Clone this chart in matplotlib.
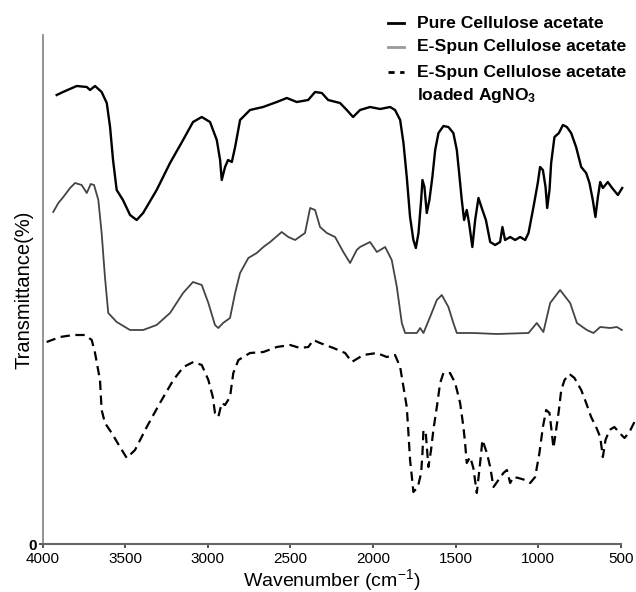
import matplotlib
matplotlib.use("Agg")
import matplotlib.pyplot as plt
from matplotlib.lines import Line2D

plt.rcParams['font.family'] = ['Liberation Sans', 'DejaVu Sans']
plt.rcParams['mathtext.fontset'] = 'custom'
plt.rcParams['mathtext.rm'] = 'Liberation Sans'
plt.rcParams['mathtext.bf'] = 'Liberation Sans:bold'
plt.rcParams['mathtext.it'] = 'Liberation Sans:italic'

# ---------------- data (wavenumber cm-1, transmittance a.u.) ----------------
wn_pure = [3914, 3876, 3793, 3732, 3712, 3682, 3642, 3611, 3591, 3573, 3551, 3513, 3470, 3430,
           3391, 3309, 3228, 3149, 3089, 3036, 2986, 2945, 2925, 2915, 2895, 2877, 2854, 2834,
           2804, 2744, 2665, 2582, 2521, 2461, 2392, 2350, 2309, 2271, 2199, 2158, 2120, 2078,
           2017, 1956, 1896,
           1866, 1835, 1815, 1795, 1775, 1755, 1740, 1724, 1708, 1700, 1688, 1674, 1658, 1640,
           1623, 1603, 1573, 1543, 1513, 1492, 1478, 1462, 1448, 1432, 1418, 1398, 1381, 1361,
           1337, 1316, 1290, 1260, 1230, 1216, 1200, 1169, 1139, 1109, 1078, 1058, 1028,
           1002, 988, 971, 955, 945, 931, 921, 901, 874, 850, 826, 800, 770, 739, 709, 689,
           669, 653, 638, 624, 608, 578, 552, 517, 491]
t_pure = [449, 452, 458, 457, 454, 458, 452, 441, 417, 384, 354, 344, 329, 324,
          331, 354, 381, 404, 422, 427, 422, 404, 384, 364, 377, 384, 382, 397,
          424, 434, 437, 442, 446, 442, 444, 452, 451, 444, 441, 434, 427, 434,
          437, 435, 437,
          434, 424, 401, 367, 327, 304, 296, 311, 344, 364, 357, 331, 344, 367,
          394, 411, 418, 417, 411, 394, 371, 344, 324, 334, 321, 297, 324, 346,
          334, 324, 302, 299, 302, 317, 304, 307, 304, 307, 304, 311, 337,
          361, 377, 374, 357, 336, 354, 381, 407, 411, 419, 417, 411, 397, 377, 371, 361,
          344, 327, 347, 362, 356, 362, 356, 349, 356]

wn_spun = [3935, 3904, 3874, 3833, 3803, 3763, 3732, 3708, 3688, 3662, 3642, 3622, 3602, 3551,
           3470, 3391, 3309, 3228, 3149, 3089, 3036, 2996, 2956, 2936, 2907, 2865, 2834, 2804,
           2754, 2703, 2663, 2622, 2552, 2512, 2471, 2411, 2380, 2350, 2320, 2279, 2229, 2179,
           2138, 2098, 2078, 2017, 1976, 1926, 1886, 1855, 1825, 1805, 1734, 1714, 1694, 1654,
           1613, 1583, 1543, 1513, 1492, 1392, 1250, 1058, 1008, 968, 927, 867, 806, 765, 705,
           665, 624, 564, 523, 493]
t_spun = [332, 341, 347, 356, 361, 359, 351, 360, 359, 344, 311, 267, 231, 222,
          214, 214, 219, 231, 251, 262, 259, 241, 219, 216, 221, 226, 251, 271,
          286, 291, 297, 302, 312, 307, 304, 311, 336, 334, 317, 311, 307, 292,
          281, 294, 297, 302, 292, 297, 284, 257, 221, 211, 211, 216, 211, 227,
          244, 249, 237, 221, 211, 211, 210, 211, 221, 212, 241, 254, 241, 221, 214,
          211, 217, 216, 217, 214]

wn_ag = [3975, 3894, 3814, 3743, 3702, 3682, 3652, 3642, 3622, 3581, 3531, 3490, 3440, 3369,
         3289, 3208, 3147, 3087, 3036, 2996, 2969, 2956, 2936, 2915, 2895, 2865, 2845, 2814,
         2744, 2663, 2582, 2501, 2441, 2391, 2360, 2320, 2239, 2168, 2128, 2078, 2058, 1976,
         1916,
         1866, 1835, 1815, 1795, 1785, 1775, 1764, 1755, 1728, 1708, 1700, 1694, 1680, 1664,
         1648, 1634, 1613, 1593, 1573, 1533, 1502, 1472, 1452, 1442, 1432, 1411, 1392, 1371,
         1351, 1337, 1310, 1290, 1270, 1240, 1210, 1189, 1169, 1150, 1119, 1078, 1048, 1018,
         992, 971, 951, 931, 921, 907, 891, 874, 860, 840, 810, 780, 739, 709, 679, 649,
         624, 608, 592, 568, 538, 507, 477, 447, 417]
t_ag = [202, 207, 209, 209, 204, 191, 164, 134, 121, 111, 97, 86, 94, 117,
        141, 164, 177, 182, 179, 164, 147, 131, 127, 141, 139, 147, 171, 184,
        191, 192, 197, 199, 196, 197, 204, 201, 196, 191, 182, 187, 189, 191,
        187,
        189, 177, 157, 137, 111, 84, 67, 52, 57, 71, 91, 114, 111, 77,
        94, 114, 137, 161, 171, 171, 161, 141, 117, 101, 81, 87, 76, 51,
        81, 104, 91, 77, 57, 64, 71, 74, 61, 67, 66, 64, 61, 67,
        91, 117, 134, 131, 117, 96, 114, 134, 154, 164, 170, 166, 154, 141, 127, 117,
        107, 87, 104, 114, 117, 111, 106, 112, 122]

labels = ["Pure Cellulose acetate", "E-Spun Cellulose acetate",
          "E-Spun Cellulose acetate", r"loaded AgNO$_{\mathbf{3}}$"]
xticks = [4000, 3500, 3000, 2500, 2000, 1500, 1000, 500]

# ---------------- figure ----------------
W, H = 636, 592
fig = plt.figure(figsize=(W / 100, H / 100), dpi=100)
ax = fig.add_axes([42.5 / W, 1 - 544 / H, (620.7 - 42.5) / W, (544 - 35) / H])

ax.plot(wn_pure, t_pure, color='black', lw=1.7, clip_on=False, solid_joinstyle='round')
ax.plot(wn_spun, t_spun, color='#444444', lw=1.3, clip_on=False, solid_joinstyle='round')
ax.plot(wn_ag, t_ag, color='black', lw=1.6, linestyle=(0, (4.2, 2.5)), clip_on=False)

ax.set_xlim(4000, 500)
ax.set_ylim(0, 509)

for s in ['top', 'right']:
    ax.spines[s].set_visible(False)
ax.spines['left'].set_color('#8a8a8a')
ax.spines['bottom'].set_color('#666666')
ax.spines['left'].set_linewidth(1.3)
ax.spines['bottom'].set_linewidth(1.5)

ax.set_xticks(xticks)
ax.set_xticklabels([str(v) for v in xticks], fontsize=11)
ax.tick_params(axis='x', direction='out', length=3, width=1.2, color='#333333', pad=3)
ax.set_yticks([0])
ax.set_yticklabels(['0'], fontsize=11, fontweight='bold')
ax.tick_params(axis='y', direction='out', length=3, width=1.2, color='#333333', pad=1)

ax.set_xlabel(r"Wavenumber (cm$^{-1}$)", fontsize=14)
ax.xaxis.set_label_coords(0.5, -0.046)
ax.set_ylabel("Transmittance(%)", fontsize=14.5)
ax.yaxis.set_label_coords(-0.016, 0.5)

# ---------------- legend (manual, figure pixel coords) ----------------
def fx(px):
    return px / W

def fy(py):
    return 1 - py / H

rows = [(23, dict(color='black', lw=2.0, ls='-')),
        (47, dict(color='#9a9a9a', lw=2.0, ls='-')),
        (72, dict(color='black', lw=2.0, ls=(0, (2.2, 2.0))))]
for (py, st) in rows:
    fig.add_artist(Line2D([fx(388), fx(404)], [fy(py), fy(py)], transform=fig.transFigure,
                          color=st['color'], lw=st['lw'], linestyle=st['ls']))
for py, lab in zip([23, 47, 72, 95], labels):
    fig.text(fx(417), fy(py), lab, fontsize=12.6, fontweight='bold', ha='left', va='center')

fig.savefig("out.png", dpi=100)
